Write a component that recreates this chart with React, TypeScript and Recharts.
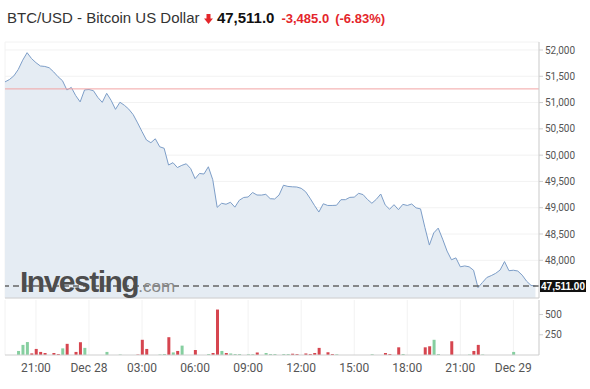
import React from "react";
import {
  AreaChart,
  Area,
  BarChart,
  Bar,
  Cell,
  XAxis,
  YAxis,
  CartesianGrid,
  ReferenceLine,
} from "recharts";

// 15-minute points, hours counted from Dec 27 21:00
const startHour = -1.75;
const stepHour = 0.25;

const prices = [
  51393, 51438, 51507, 51630, 51806, 51949, 51837, 51759, 51696, 51687,
  51662, 51584, 51491, 51417, 51240, 51288, 51132, 51013, 51241, 51248,
  51226, 51098, 51004, 51176, 51043, 50871, 51006, 50949, 50875, 50770,
  50613, 50447, 50288, 50237, 50311, 50159, 50131, 49812, 49857, 49764,
  49806, 49836, 49745, 49552, 49652, 49641, 49779, 49533, 49007, 49085,
  49066, 49104, 49011, 49142, 49195, 49204, 49290, 49242, 49240, 49255,
  49172, 49166, 49242, 49428, 49405, 49398, 49394, 49369, 49305, 49181,
  49045, 48918, 49075, 49043, 49043, 49047, 49153, 49153, 49197, 49201,
  49274, 49250, 49157, 49085, 49160, 49261, 49054, 48971, 49058, 48963,
  49064, 49043, 49071, 48997, 48978, 48622, 48290, 48522, 48612, 48403,
  48176, 48010, 48046, 47876, 47893, 47876, 47811, 47480, 47578, 47673,
  47709, 47752, 47815, 47976, 47802, 47811, 47796, 47718, 47602, 47523,
  47511,
];

// volume bars: point index, volume, 1 = up candle
const volIdx = [
  3, 4, 5, 6, 7, 8, 9, 11, 12, 13, 14, 16, 17, 18, 23, 26, 30, 31, 32, 35,
  36, 37, 38, 39, 40, 43, 46, 47, 48, 49, 50, 51, 52, 53, 55, 56, 57, 59, 60,
  61, 63, 64, 65, 66, 68, 69, 70, 71, 73, 74, 75, 83, 86, 87, 89, 90, 95, 96,
  97, 98, 101, 105, 106, 107, 108, 115,
];
const volValues = [
  50, 125, 160, 20, 75, 38, 25, 25, 12, 82, 138, 38, 158, 88, 38, 6, 6, 188,
  75, 6, 12, 220, 32, 50, 116, 62, 12, 25, 562, 50, 25, 19, 12, 12, 9, 9, 32,
  25, 12, 12, 12, 12, 16, 12, 19, 12, 25, 88, 34, 12, 9, 9, 25, 12, 95, 12, 95,
  108, 188, 12, 170, 6, 50, 125, 6, 38,
];
const volUp = [
  1, 1, 1, 0, 0, 0, 0, 0, 0, 1, 0, 0, 0, 1, 1, 1, 0, 0, 0, 1, 1, 0, 1, 0, 1, 0,
  1, 0, 0, 1, 0, 1, 1, 1, 1, 1, 0, 1, 1, 1, 1, 1, 0, 0, 0, 0, 0, 0, 0, 0, 1, 1,
  0, 0, 0, 1, 0, 0, 1, 1, 0, 1, 0, 0, 1, 1,
];

const xTicks = [0, 3, 6, 9, 12, 15, 18, 21, 24, 27];
const xTickLabels = ["21:00", "Dec 28", "03:00", "06:00", "09:00", "12:00", "15:00", "18:00", "21:00", "Dec 29"];
const priceTicks = [48000, 48500, 49000, 49500, 50000, 50500, 51000, 51500, 52000];
const volTicks = [250, 500];

const prevLevel = 51260;
const lastPrice = 47511;
const change = -3485;
const changePct = -6.83;

const xDomain = [-1.75, 28.45];
const priceDomain = [47283, 52152];
const volDomain = [0, 680];

const priceData = prices.map((p, i) => ({ t: startHour + i * stepHour, price: p }));
const volumeData = volIdx.map((idx, k) => ({
  t: startHour + idx * stepHour,
  vol: volValues[k],
  up: volUp[k],
}));

const axisFont = { fontSize: 10, fill: "#555", fontFamily: "Roboto, Arial, sans-serif" };

const PriceTag = ({ viewBox }: any) => {
  if (!viewBox) return null;
  const { x, y, width } = viewBox;
  return (
    <g>
      <rect x={x + width + 1} y={y - 6} width={46} height={12} fill="#111" />
      <text
        x={x + width + 24}
        y={y + 4}
        textAnchor="middle"
        fill="#fff"
        fontSize={10}
        fontWeight="bold"
        fontFamily="Arial, sans-serif"
      >
        {lastPrice.toLocaleString("en-US", { minimumFractionDigits: 2 })}
      </text>
    </g>
  );
};

const App = () => {
  return (
    <div
      style={{
        position: "absolute",
        left: 0,
        top: 0,
        width: 590,
        height: 389,
        background: "#fff",
        overflow: "hidden",
      }}
    >
      <div
        style={{
          position: "absolute",
          left: 7,
          top: 10,
          fontFamily: "Arial, 'Liberation Sans', sans-serif",
          fontSize: 15,
          lineHeight: "15px",
          color: "#333",
          whiteSpace: "nowrap",
        }}
      >
        BTC/USD - Bitcoin US Dollar{" "}
        <svg width="9" height="10" viewBox="0 0 9 10" style={{ verticalAlign: "-1px" }}>
          <rect x="2.5" y="0" width="4" height="5" fill="#e4262b" />
          <polygon points="0,4.5 9,4.5 4.5,10" fill="#e4262b" />
        </svg>{" "}
        <span style={{ fontWeight: "bold", fontSize: 15, color: "#111" }}>
          {lastPrice.toLocaleString("en-US", { minimumFractionDigits: 1 })}
        </span>
        <span style={{ fontWeight: "bold", fontSize: 13, color: "#e4262b", marginLeft: 7 }}>
          {change.toLocaleString("en-US", { minimumFractionDigits: 1 })}
        </span>
        <span style={{ fontWeight: "bold", fontSize: 13, color: "#e4262b", marginLeft: 6 }}>
          ({changePct}%)
        </span>
      </div>

      <div style={{ position: "absolute", left: 0, top: 0 }}>
        <AreaChart width={590} height={299} data={priceData} margin={{ top: 42, right: 0, bottom: 0, left: 5 }}>
          <CartesianGrid stroke="#f2f2f2" />
          <XAxis
            dataKey="t"
            type="number"
            domain={xDomain}
            ticks={xTicks}
            allowDataOverflow
            tick={false}
            tickLine={false}
            axisLine={{ stroke: "#cfcfcf" }}
            height={1}
          />
          <YAxis
            orientation="right"
            domain={priceDomain}
            ticks={priceTicks}
            allowDataOverflow
            width={51}
            tickSize={4}
            tickMargin={2}
            tick={axisFont}
            tickFormatter={(v) => v.toLocaleString("en-US")}
            axisLine={{ stroke: "#cfcfcf" }}
            tickLine={{ stroke: "#cfcfcf" }}
          />
          <Area
            type="linear"
            dataKey="price"
            stroke="#7d9ec8"
            strokeWidth={1}
            fill="#e5ecf3"
            fillOpacity={1}
            dot={false}
            activeDot={false}
            isAnimationActive={false}
          />
          <ReferenceLine y={prevLevel} stroke="#f2a3a3" strokeWidth={1} />
          <ReferenceLine
            y={lastPrice}
            stroke="#666"
            strokeWidth={1.5}
            strokeDasharray="6 4"
            label={<PriceTag />}
          />
        </AreaChart>
      </div>

      <div
        style={{
          position: "absolute",
          left: 20,
          top: 267,
          fontFamily: "Arial, 'Liberation Sans', sans-serif",
          lineHeight: "30px",
          whiteSpace: "nowrap",
          pointerEvents: "none",
        }}
      >
        <span style={{ fontSize: 30, fontWeight: "bold", letterSpacing: -1.5, color: "#4d4d4d" }}>Investing</span>
        <span style={{ fontSize: 17, color: "#888" }}>.com</span>
      </div>

      <div style={{ position: "absolute", left: 0, top: 299 }}>
        <BarChart width={590} height={90} data={volumeData} margin={{ top: 1, right: 0, bottom: 0, left: 5 }}>
          <CartesianGrid horizontal={false} stroke="#f2f2f2" />
          <XAxis
            dataKey="t"
            type="number"
            domain={xDomain}
            ticks={xTicks}
            interval={0}
            allowDataOverflow
            tickFormatter={(v) => xTickLabels[xTicks.indexOf(v)]}
            tickLine={false}
            axisLine={{ stroke: "#cfcfcf" }}
            tick={{ ...axisFont, fontSize: 12 }}
            height={34}
          />
          <YAxis
            orientation="right"
            domain={volDomain}
            ticks={volTicks}
            allowDataOverflow
            width={51}
            tickSize={4}
            tickMargin={2}
            tick={axisFont}
            axisLine={{ stroke: "#cfcfcf" }}
            tickLine={{ stroke: "#cfcfcf" }}
          />
          <Bar dataKey="vol" barSize={3} isAnimationActive={false}>
            {volumeData.map((d, i) => (
              <Cell key={i} fill={d.up ? "#86cfa0" : "#d6454f"} />
            ))}
          </Bar>
        </BarChart>
      </div>
    </div>
  );
};

export default App;
